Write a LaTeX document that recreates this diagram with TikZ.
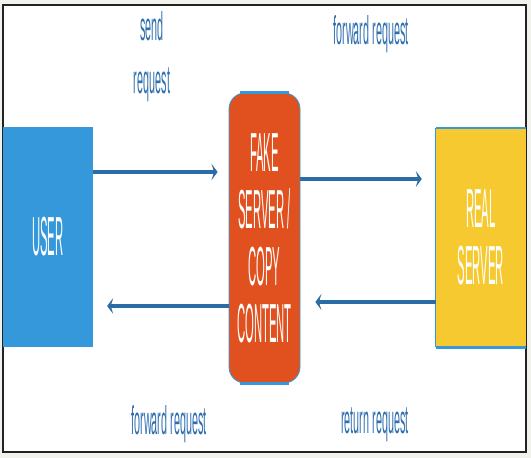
\documentclass[tikz,border=0pt]{standalone}
\usepackage{fontspec}
\usepackage{tikz}
\usetikzlibrary{arrows.meta,positioning,calc}
\newfontfamily\narrowfont[FakeStretch=0.27]{Liberation Sans}
\newfontfamily\boxfont[FakeStretch=0.205]{Liberation Sans}
\definecolor{paper}{HTML}{F2F2EC}
\definecolor{frameink}{HTML}{222222}
\definecolor{userblue}{HTML}{3598DB}
\definecolor{fakeorange}{HTML}{E0511F}
\definecolor{realyellow}{HTML}{F7C930}
\definecolor{arrowblue}{HTML}{2A6CA3}
\definecolor{labelblue}{HTML}{2F6FB0}

\tikzset{
  box/.style={rectangle, inner sep=0pt, text=white, align=center,
    font=\boxfont\fontsize{55}{57}\selectfont},
  flow/.style={draw=arrowblue, line width=3.3pt,
    -{Stealth[length=6pt,width=16pt,inset=2.5pt]}},
  tag/.style={text=labelblue, align=center,
    font=\narrowfont\fontsize{40}{53}\selectfont}
}

\begin{document}
\begin{tikzpicture}[x=1pt,y=-1pt]
        % page and frame
        \fill[paper] (0,0) rectangle (531,458);
        \draw[frameink, fill=white, line width=1.2pt] (3,5) rectangle (526,452);

        % the three parties
        \node[box, fill=userblue, minimum width=90pt, minimum height=220pt]
          (user) at (48,237) {USER};
        \node[box, fill=fakeorange, draw=userblue, line width=0.8pt,
          rounded corners=16pt, minimum width=71pt, minimum height=290pt]
          (fake) at (264.5,238) {FAKE\\SERVER /\\COPY\\CONTENT};
        \node[box, fill=realyellow, minimum width=90pt, minimum height=219pt]
          (real) at (481,237.5) {REAL\\SERVER};
        \draw[userblue, line width=2.6pt] ([xshift=11pt]fake.north west) -- ([xshift=-11pt]fake.north east);
        \draw[userblue, line width=2.6pt] ([xshift=11pt]fake.south west) -- ([xshift=-11pt]fake.south east);
        \draw[userblue, line width=2.6pt] (real.north west) -- (real.north east);
        \draw[userblue, line width=2.6pt] (real.south west) -- (real.south east);
        \draw[userblue, line width=0.8pt] (real.north west) -- (real.south west);

        % requests
        \draw[flow, shorten >=11pt] ([yshift=65pt]user.east) -- ([yshift=65pt]user.east -| fake.west);
        \draw[flow, shorten >=14pt] ([yshift=-68pt]fake.west) -- ([yshift=-68pt]fake.west -| user.east);
        \draw[flow, shorten >=14pt] ([yshift=59pt]fake.east) -- ([yshift=59pt]fake.east -| real.west);
        \draw[flow, shorten >=15pt] ([yshift=-64.5pt]real.west) -- ([yshift=-64.5pt]real.west -| fake.east);

        % labels
        \node[tag] (sendlbl) at (152,57) {send\\request};
        \node[tag] (fwdtop) at (371,34) {forward request};
        \node[tag] (fwdbot) at (169,424) {forward request};
        \node[tag] (retbot) at (375,425) {return request};
\end{tikzpicture}
\end{document}
